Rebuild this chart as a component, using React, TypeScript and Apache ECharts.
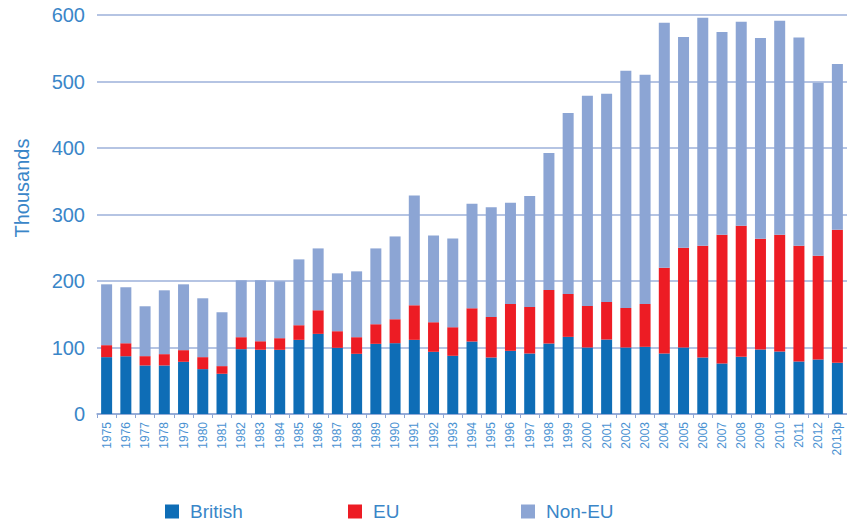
import React, { useEffect, useRef } from "react";
import * as echarts from "echarts";

const years = [
  "1975", "1976", "1977", "1978", "1979", "1980", "1981", "1982", "1983", "1984",
  "1985", "1986", "1987", "1988", "1989", "1990", "1991", "1992", "1993", "1994",
  "1995", "1996", "1997", "1998", "1999", "2000", "2001", "2002", "2003", "2004",
  "2005", "2006", "2007", "2008", "2009", "2010", "2011", "2012", "2013p",
];

const british = [
  85.5, 87, 73, 73, 78.5, 67.5, 60.5, 97.5, 96.5, 96.5,
  111.5, 120.5, 99.5, 90.5, 105.5, 106.5, 111.5, 93.5, 87.5, 109,
  85, 95, 91, 106, 116, 100, 112, 100, 101, 91,
  100, 85, 76, 86, 97, 94, 79, 82, 77,
];

const eu = [
  18, 19.5, 14, 17, 17.5, 18, 11.5, 18, 13, 17.5,
  22, 35.5, 25, 25, 29.5, 36, 52, 44.5, 43, 50,
  61, 70.5, 70, 80.5, 64.5, 62.5, 56.5, 59.5, 64.5, 129,
  150, 168, 193.5, 197, 166.5, 175.5, 174, 156, 200,
];

const nonEu = [
  91.5, 84, 75, 96, 99, 88.5, 81, 85.5, 91.5, 85.5,
  99, 93, 87, 99, 114, 124.5, 165, 130.5, 133.5, 157,
  165, 152, 167, 206, 272, 316, 313, 356.5, 344.5, 368.5,
  317, 343, 305, 307, 302, 322, 313, 260, 249.5,
];

const COLORS = { british: "#0e6db6", eu: "#ed1c24", nonEu: "#8ca5d4" };
const TEXT = "#3a86c8";
const FONT = "Liberation Sans, Arial, sans-serif";

export default function App() {
  const ref = useRef<HTMLDivElement>(null);
  useEffect(() => {
    if (!ref.current) return;
    const chart = echarts.init(ref.current, undefined, { renderer: "svg" });
    const legendBase = {
      top: 502,
      padding: 0,
      itemWidth: 14,
      itemHeight: 14,
      icon: "rect",
      textStyle: { color: TEXT, fontSize: 19, fontFamily: FONT, padding: [0, 0, 0, 6] },
      selectedMode: false,
    };
    chart.setOption({
      animation: false,
      textStyle: { fontFamily: FONT },
      grid: { left: 97, right: -4, top: 15, bottom: 114 },
      legend: [
        { ...legendBase, left: 165, data: ["British"] },
        { ...legendBase, left: 348, data: ["EU"] },
        { ...legendBase, left: 521, data: ["Non-EU"] },
      ],
      graphic: [
        {
          type: "text",
          x: 12,
          y: 188,
          rotation: Math.PI / 2,
          style: {
            text: "Thousands",
            fill: TEXT,
            font: `20px ${FONT}`,
            textAlign: "center",
            textVerticalAlign: "top",
          },
        },
      ],
      xAxis: {
        type: "category",
        data: years,
        axisLine: { lineStyle: { color: "#8ca5d4", width: 1.5 } },
        axisTick: { show: true, interval: 0, length: 4, lineStyle: { color: "#8ca5d4" } },
        axisLabel: {
          interval: 0,
          rotate: 90,
          fontSize: 12,
          color: "#4a92d2",
          margin: 8,
          fontFamily: FONT,
        },
      },
      yAxis: {
        type: "value",
        min: 0,
        max: 600,
        interval: 100,
        axisLine: { show: false },
        axisTick: { show: false },
        axisLabel: { fontSize: 20, color: TEXT, margin: 12, fontFamily: FONT },
        splitLine: { lineStyle: { color: "#9cb1da", width: 1.5 } },
      },
      series: [
        { name: "British", type: "bar", stack: "t", data: british, barWidth: 11, itemStyle: { color: COLORS.british } },
        { name: "EU", type: "bar", stack: "t", data: eu, barWidth: 11, itemStyle: { color: COLORS.eu } },
        { name: "Non-EU", type: "bar", stack: "t", data: nonEu, barWidth: 11, itemStyle: { color: COLORS.nonEu } },
      ],
    });
    return () => chart.dispose();
  }, []);
  return <div ref={ref} style={{ width: 847, height: 528, position: "absolute", left: 0, top: 0 }} />;
}
